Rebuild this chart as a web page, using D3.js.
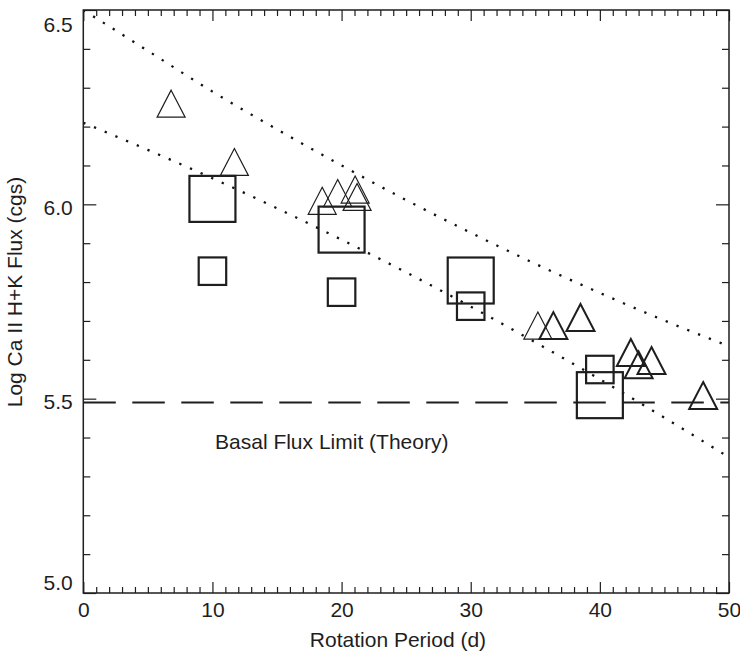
<!DOCTYPE html>
<html>
<head>
<meta charset="utf-8">
<script src="https://cdn.jsdelivr.net/npm/d3@7"></script>
<style>
  html, body { margin: 0; padding: 0; background: #fff; }
  svg { display: block; font-family: "Liberation Sans", Arial, Helvetica, sans-serif; }
</style>
</head>
<body>
<svg id="chart" width="740" height="654"></svg>
<script>
// ---- Data ----
const squareLargePeriod = [10, 20, 30, 40];
const squareLargeFlux   = [6.014, 5.935, 5.804, 5.509];
const squareSmallPeriod = [10, 20, 30, 40];
const squareSmallFlux   = [5.828, 5.774, 5.738, 5.575];

const triAPeriod = [6.8, 11.7, 18.5, 19.7, 21.05, 21.2, 35.2];
const triAFlux   = [6.259, 6.109, 6.009, 6.029, 6.038, 6.019, 5.688];
const triBPeriod = [36.4, 38.5, 42.4, 43.0, 44.0, 48.0];
const triBFlux   = [5.688, 5.709, 5.619, 5.587, 5.598, 5.508];

const upperPeriod = [0, 5, 10, 15, 20, 25, 30, 35, 40, 45, 50];
const upperFlux   = [6.50, 6.395, 6.29, 6.193, 6.10, 6.011, 5.927, 5.847, 5.772, 5.701, 5.635];
const lowerPeriod = [0, 5, 10, 15, 20, 25, 30, 35, 40, 45, 50];
const lowerFlux   = [6.21, 6.14, 6.067, 5.99, 5.909, 5.825, 5.737, 5.645, 5.55, 5.451, 5.349];

const basalFlux = 5.49;
const basalLabel = "Basal Flux Limit (Theory)";

const xTicks = [0, 10, 20, 30, 40, 50];
const yTicks = [5.0, 5.5, 6.0, 6.5];
const xTitle = "Rotation Period (d)";
const yTitle = "Log Ca II H+K Flux (cgs)";

// ---- Layout ----
const L = 83.3, R = 729, T = 10, B = 593;
const ink = "#1e1e1e";
const fs = "21px";

const svg = d3.select("#chart");
const x = d3.scaleLinear().domain([0, 50]).range([L, R]);
const y = d3.scaleLinear().domain([5.0, 6.5]).range([B, T]);

svg.append("defs").append("clipPath").attr("id", "plotclip")
  .append("rect").attr("x", L).attr("y", T).attr("width", R - L).attr("height", B - T);

const plot = svg.append("g").attr("clip-path", "url(#plotclip)");

// Basal dashed line
plot.append("line")
  .attr("x1", x(0)).attr("x2", x(50))
  .attr("y1", y(basalFlux)).attr("y2", y(basalFlux))
  .attr("stroke", ink).attr("stroke-width", 2)
  .attr("stroke-dasharray", "32.5 16.5");

// Dotted curves
const line = d3.line().x(d => x(d[0])).y(d => y(d[1])).curve(d3.curveMonotoneX);
[[upperPeriod, upperFlux], [lowerPeriod, lowerFlux]].forEach(([px, py]) => {
  plot.append("path")
    .attr("d", line(px.map((p, i) => [p, py[i]])))
    .attr("fill", "none").attr("stroke", "#111")
    .attr("stroke-width", 2.3).attr("stroke-dasharray", "2.3 9.3");
});

// Squares
function squares(px, py, size, sw) {
  plot.selectAll(null).data(px.map((p, i) => [p, py[i]])).enter()
    .append("rect")
    .attr("x", d => x(d[0]) - size / 2).attr("y", d => y(d[1]) - size / 2)
    .attr("width", size).attr("height", size)
    .attr("fill", "none").attr("stroke", ink).attr("stroke-width", sw);
}
squares(squareLargePeriod, squareLargeFlux, 46, 2.2);
squares(squareSmallPeriod, squareSmallFlux, 27.5, 2.2);

// Triangles
function triangles(px, py, sw) {
  const hw = 14, hh = 13.5;
  plot.selectAll(null).data(px.map((p, i) => [p, py[i]])).enter()
    .append("path")
    .attr("d", d => {
      const cx = x(d[0]), cy = y(d[1]);
      return `M${cx},${cy - hh}L${cx + hw},${cy + hh}L${cx - hw},${cy + hh}Z`;
    })
    .attr("fill", "none").attr("stroke", ink).attr("stroke-width", sw)
    .attr("stroke-linejoin", "miter");
}
triangles(triAPeriod, triAFlux, 1.2);
triangles(triBPeriod, triBFlux, 2);

// Basal label
svg.append("text")
  .attr("x", x(10.2)).attr("y", y(5.37))
  .attr("font-size", fs).attr("fill", ink)
  .text(basalLabel);

// ---- Axes ----
const xMinor = d3.range(0, 51, 1).filter(v => v % 10 !== 0);
const yMinor = d3.range(50, 66, 1).map(v => v / 10).filter(v => Math.round(v * 10) % 5 !== 0);

function styleAxis(g) {
  g.select(".domain").remove();
  g.selectAll(".tick line").attr("stroke", ink).attr("stroke-width", 1.2);
}

// bottom
const gB = svg.append("g").attr("transform", `translate(0,${B})`)
  .call(d3.axisBottom(x).tickValues(xTicks).tickSize(-11).tickPadding(0).tickFormat(d3.format("d")));
styleAxis(gB);
gB.selectAll("text").attr("font-size", fs).attr("fill", ink).attr("font-family", null)
  .attr("y", 24).attr("dy", 0);
svg.append("g").attr("transform", `translate(0,${B})`)
  .call(d3.axisBottom(x).tickValues(xMinor).tickSize(-6).tickFormat(""))
  .call(styleAxis);

// top
svg.append("g").attr("transform", `translate(0,${T})`)
  .call(d3.axisTop(x).tickValues(xTicks).tickSize(-11).tickFormat(""))
  .call(styleAxis);
svg.append("g").attr("transform", `translate(0,${T})`)
  .call(d3.axisTop(x).tickValues(xMinor).tickSize(-6).tickFormat(""))
  .call(styleAxis);

// left
const gL = svg.append("g").attr("transform", `translate(${L},0)`)
  .call(d3.axisLeft(y).tickValues(yTicks).tickSize(-13).tickPadding(10.5).tickFormat(d3.format(".1f")));
styleAxis(gL);
gL.selectAll("text").attr("font-size", fs).attr("fill", ink).attr("font-family", null)
  .attr("dy", "0.32em")
  .attr("y", d => d >= 6.5 ? 15 : (d <= 5.0 ? -10 : 3));
svg.append("g").attr("transform", `translate(${L},0)`)
  .call(d3.axisLeft(y).tickValues(yMinor).tickSize(-7).tickFormat(""))
  .call(styleAxis);

// right
svg.append("g").attr("transform", `translate(${R},0)`)
  .call(d3.axisRight(y).tickValues(yTicks).tickSize(-13).tickFormat(""))
  .call(styleAxis);
svg.append("g").attr("transform", `translate(${R},0)`)
  .call(d3.axisRight(y).tickValues(yMinor).tickSize(-7).tickFormat(""))
  .call(styleAxis);

// frame
svg.append("rect").attr("x", L).attr("y", T).attr("width", R - L).attr("height", B - T)
  .attr("fill", "none").attr("stroke", ink).attr("stroke-width", 1.5);

// titles
svg.append("text").attr("x", 398).attr("y", 647)
  .attr("text-anchor", "middle").attr("font-size", fs).attr("fill", ink)
  .text(xTitle);
svg.append("text")
  .attr("transform", `translate(22,292) rotate(-90)`)
  .attr("text-anchor", "middle").attr("font-size", fs).attr("fill", ink)
  .text(yTitle);
</script>
</body>
</html>
